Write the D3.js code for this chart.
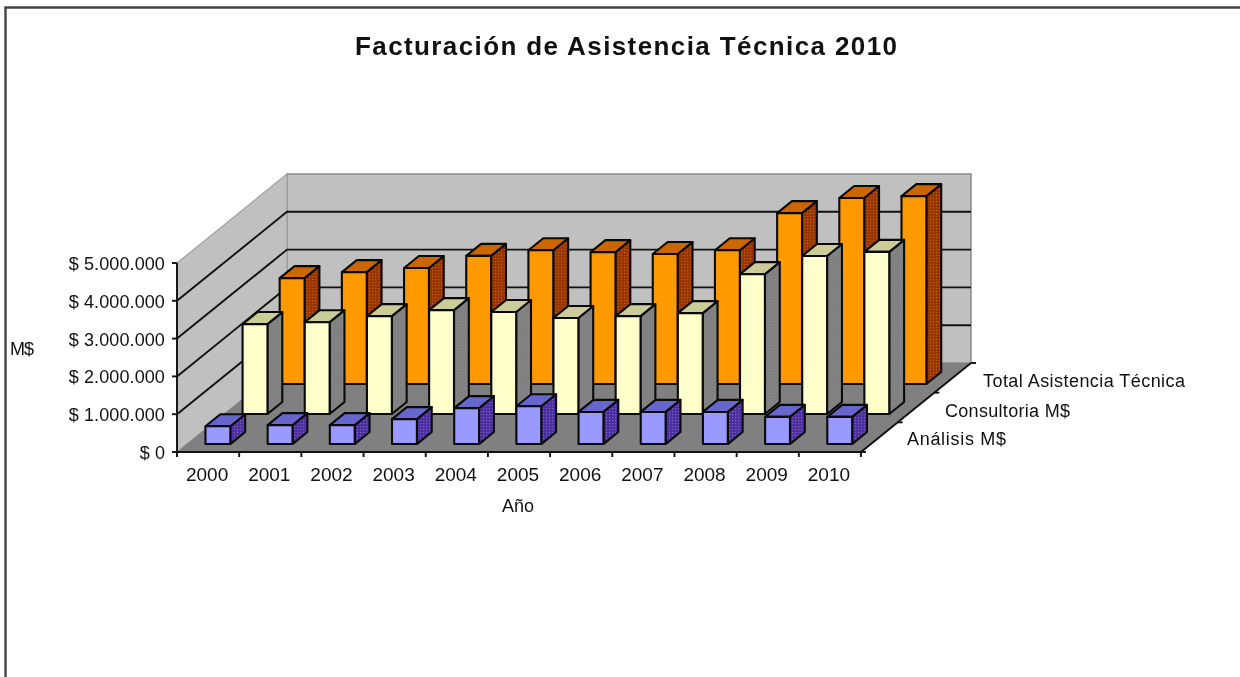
<!DOCTYPE html>
<html><head><meta charset="utf-8">
<script src="https://cdn.jsdelivr.net/npm/d3@7"></script>
<style>html,body{margin:0;padding:0;background:#fff}svg{display:block;filter:blur(0.4px)}text{font-family:"Liberation Sans",Arial,sans-serif;fill:#111}</style>
</head><body><svg id="c" width="1240" height="677"></svg>
<script>
const years=["2000","2001","2002","2003","2004","2005","2006","2007","2008","2009","2010"];
const analisis=[470000,500000,500000,660000,950000,1000000,850000,850000,850000,720000,720000];
const consultoria=[2380000,2430000,2590000,2750000,2700000,2540000,2590000,2670000,3700000,4180000,4290000];
const total=[2800000,2960000,3070000,3390000,3540000,3490000,3440000,3540000,4520000,4920000,4970000];
const seriesNames=["Análisis M$","Consultoria M$","Total Asistencia Técnica"];
const seriesValues=[analisis,consultoria,total];
const yTicks=[0,1000000,2000000,3000000,4000000,5000000];
const yTickLabels=["$ 0","$ 1.000.000","$ 2.000.000","$ 3.000.000","$ 4.000.000","$ 5.000.000"];
const palette=[{front:"#9999ff",top:"#6666cc",side:"#4b2fa0",dot:"#7d62c0"},
               {front:"#ffffcc",top:"#cccc99",side:"#808080",dot:"#8a8a8a"},
               {front:"#ff9900",top:"#cc6600",side:"#993300",dot:"#b8650c"}];

const svg=d3.select("#c");
const x=d3.scaleBand().domain(years).range([177,861]).paddingInner(.6).paddingOuter(.3);
const xEdge=d3.scaleLinear().domain([0,years.length]).range([177,861]);
const y=d3.scaleLinear().domain([0,5000000]).range([452,263]);
const depth=d3.scaleBand().domain(seriesNames).range([-.012,1]).paddingInner(.6).paddingOuter(.3);
const DX=110,DY=-89;
const P=(px,v,d)=>[px+d*DX,y(v)+d*DY];
const path=pts=>d3.line()(pts)+"Z";

svg.append("path").attr("d","M5.5,677V7.5H1240").attr("fill","none").attr("stroke","#444").attr("stroke-width",2.4);

const defs=svg.append("defs");
palette.forEach((c,i)=>{
  const p=defs.append("pattern").attr("id","side"+i).attr("width",3).attr("height",3).attr("patternUnits","userSpaceOnUse");
  p.append("rect").attr("width",3).attr("height",3).attr("fill",c.side);
  p.append("rect").attr("width",1.2).attr("height",1.2).attr("fill",c.dot);
});

const x0=177,x1=861,vMax=5000000;
svg.append("path").attr("d",path([P(x0,0,1),P(x1,0,1),P(x1,vMax,1),P(x0,vMax,1)])).attr("fill","#c0c0c0").attr("stroke","#8c8c8c").attr("stroke-width",1.5);
svg.append("path").attr("d",path([P(x0,0,0),P(x0,0,1),P(x0,vMax,1),P(x0,vMax,0)])).attr("fill","#c0c0c0").attr("stroke","#a0a0a0").attr("stroke-width",1.2);
svg.append("path").attr("d",path([P(x0,0,0),P(x1,0,0),P(x1,0,1),P(x0,0,1)])).attr("fill","#808080");
yTicks.slice(1,-1).forEach(t=>{
  svg.append("path").attr("d",d3.line()([P(x0,t,0),P(x0,t,1),P(x1,t,1)])).attr("fill","none").attr("stroke","#111").attr("stroke-width",1.9);
});

const bw=x.bandwidth(),db=depth.bandwidth();
[2,1,0].forEach(s=>{
  const name=seriesNames[s],d0=depth(name),d1=d0+db,c=palette[s];
  const g=svg.append("g");
  years.forEach((yr,i)=>{
    const v=seriesValues[s][i],l=x(yr),r=l+bw;
    const st=e=>e.attr("stroke","#0a0a0a").attr("stroke-width",2.1).attr("stroke-linejoin","round");
    st(g.append("path").attr("d",path([P(r,0,d0),P(r,0,d1),P(r,v,d1),P(r,v,d0)])).attr("fill",`url(#side${s})`));
    st(g.append("path").attr("d",path([P(l,v,d0),P(r,v,d0),P(r,v,d1),P(l,v,d1)])).attr("fill",c.top));
    st(g.append("path").attr("d",path([P(l,0,d0),P(r,0,d0),P(r,v,d0),P(l,v,d0)])).attr("fill",c.front));
  });
});

const ax=svg.append("g").attr("stroke","#111").attr("stroke-width",1.9).attr("fill","none");
ax.append("path").attr("d",d3.line()([[x0,y(vMax)],[x0,y(0)],[x1,y(0)],P(x1,0,1)]));
yTicks.forEach(t=>ax.append("path").attr("d",`M${x0-5},${y(t)}H${x0}`));
years.concat("").forEach((_,i)=>ax.append("path").attr("d",`M${xEdge(i)},${y(0)}v5`));
[0,1,2,3].forEach(i=>{const [a,b]=P(x1,0,i/3);ax.append("path").attr("d",`M${a},${b}h5`)});

const fit=(sel,w)=>sel.attr("textLength",w).attr("lengthAdjust","spacing");
fit(svg.append("text").attr("x",355).attr("y",55).attr("font-size",26).attr("font-weight","bold").text("Facturación de Asistencia Técnica 2010"),542);
yTicks.forEach((t,i)=>{
  svg.append("text").attr("x",165).attr("y",y(t)+7).attr("text-anchor","end").attr("font-size",18).attr("letter-spacing",0.1).text(yTickLabels[i]);
});
years.forEach(yr=>{
  svg.append("text").attr("x",x(yr)+bw/2-1).attr("y",481).attr("text-anchor","middle").attr("font-size",19).text(yr);
});
svg.append("text").attr("x",518).attr("y",512).attr("text-anchor","middle").attr("font-size",18).text("Año");
svg.append("text").attr("x",10).attr("y",355).attr("font-size",18).attr("letter-spacing",-1).text("M$");
const lx=[907,945,983],ly=[445,417,387],lw=[99,125,202];
seriesNames.forEach((n,i)=>fit(svg.append("text").attr("x",lx[i]).attr("y",ly[i]).attr("font-size",18).text(n),lw[i]));
</script></body></html>
